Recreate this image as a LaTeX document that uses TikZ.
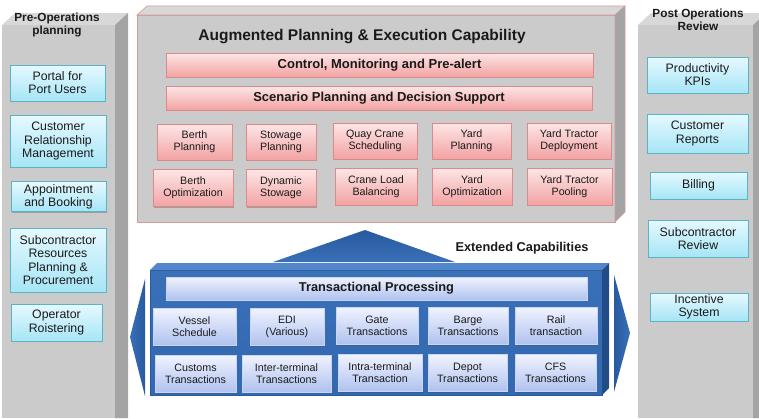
\documentclass[tikz,border=0pt]{standalone}
\usepackage{fontspec}
\setmainfont{Liberation Sans}
\usetikzlibrary{shadows}

\definecolor{txt}{HTML}{1A1A1A}
\definecolor{pillarfront}{HTML}{CBCBCB}
\definecolor{pillartop}{HTML}{D8D8D8}
\definecolor{pillarside}{HTML}{A4A4A4}
\definecolor{redline}{HTML}{D49A9A}
\definecolor{pinktop}{HTML}{FDE6E6}
\definecolor{pinkbot}{HTML}{F3A2A2}
\definecolor{pinkline}{HTML}{D98A8A}
\definecolor{bluedark}{HTML}{275A9E}
\definecolor{bluemid}{HTML}{3A70B8}
\definecolor{bluefront}{HTML}{3268B0}
\definecolor{bluelight}{HTML}{5287CB}
\definecolor{bluetop}{HTML}{F0F3FF}
\definecolor{bluebot}{HTML}{AEC1EE}
\definecolor{blueline}{HTML}{C9D5F2}
\definecolor{cyantop}{HTML}{E6F9FF}
\definecolor{cyanbot}{HTML}{A6E5F6}
\definecolor{cyanline}{HTML}{5CB3C6}

\tikzset{
  boxbase/.style={inner sep=1pt, align=center, text=txt,
    drop shadow={shadow xshift=1.3pt, shadow yshift=-1.3pt, opacity=0.35, fill=black!70}},
  pinkbox/.style={boxbase, draw=pinkline, line width=0.6pt, top color=pinktop, bottom color=pinkbot,
    font=\fontsize{10.7}{11.8}\selectfont},
  pinkbar/.style={pinkbox, font=\fontsize{13}{14}\selectfont\bfseries},
  bluebox/.style={boxbase, draw=blueline, line width=0.6pt, top color=bluetop, bottom color=bluebot,
    font=\fontsize{10.7}{12}\selectfont},
  bluebar/.style={bluebox, font=\fontsize{12.8}{14}\selectfont\bfseries},
  cyanbox/.style={boxbase, draw=cyanline, line width=0.6pt, top color=cyantop, bottom color=cyanbot,
    font=\fontsize{12.3}{13.2}\selectfont},
  heading/.style={align=center, text=txt, inner sep=0pt, font=\fontsize{11.8}{13}\selectfont\bfseries},
}

\begin{document}
\begin{tikzpicture}[x=1pt, y=-1pt]
\useasboundingbox (0,0) rectangle (759,418);
\clip (0,0) rectangle (759,418);
\fill[white] (0,0) rectangle (759,418);

% ---------- left pillar ----------
\fill[pillarfront] (2,25) rectangle (115,418);
\fill[pillartop] (2,25) -- (15,13) -- (128,13) -- (115,25) -- cycle;
\fill[pillarside] (115,25) -- (128,13) -- (128,418) -- (115,418) -- cycle;

% ---------- right pillar ----------
\fill[pillarfront] (638,25) rectangle (753,418);
\fill[pillartop] (638,25) -- (651,13) -- (766,13) -- (753,25) -- cycle;
\fill[pillarside] (753,25) -- (766,13) -- (766,418) -- (753,418) -- cycle;

% ---------- upper block ----------
\fill[pillarfront, draw=redline, line width=0.6pt] (137,15) rectangle (615,222);
\fill[pillartop, draw=redline, line width=0.6pt] (137,15) -- (147,6) -- (625,6) -- (615,15) -- cycle;
\fill[pillarside, draw=redline, line width=0.6pt] (615,15) -- (625,6) -- (625,212) -- (615,222) -- cycle;

% ---------- lower block ----------
\shade[top color=bluedark, bottom color=bluemid] (273,262) -- (365,230) -- (455,262) -- cycle;
\shade[top color=bluemid, bottom color=bluefront] (150,270) rectangle (602,395);
\draw[bluedark, line width=0.8pt] (150,270) rectangle (602,395);
\fill[bluelight] (150,270) -- (157,263) -- (609,263) -- (602,270) -- cycle;
\fill[bluedark!85!black] (602,270) -- (609,263) -- (609,388) -- (602,395) -- cycle;
\shade[left color=bluemid, right color=bluedark] (145,279) -- (130,337) -- (145,396) -- cycle;
\shade[left color=bluedark, right color=bluemid] (614,275) -- (630,333) -- (614,392) -- cycle;

% ---------- headings ----------
\node[heading] (preh) at (57,25) {Pre-Operations\\planning};
\node[heading] (posth) at (698,20) {Post Operations\\Review};
\node[heading, font=\fontsize{15.5}{17}\selectfont\bfseries] (augh) at (362,37)
  {Augmented Planning \& Execution Capability};
\node[heading, font=\fontsize{12.8}{14}\selectfont\bfseries] (exth) at (522,248) {Extended Capabilities};

% ---------- planning & execution ----------
\node[pinkbar, minimum width=427pt, minimum height=24pt] (cmp) at (379.5,65) {Control, Monitoring and Pre-alert};
\node[pinkbar, minimum width=426pt, minimum height=24pt] (spd) at (379,98) {Scenario Planning and Decision Support};

\node[pinkbox, minimum width=75pt, minimum height=36pt] (berthp) at (194.5,142) {Berth\\Planning};
\node[pinkbox, minimum width=70pt, minimum height=36pt] (stowp) at (281,142) {Stowage\\Planning};
\node[pinkbox, minimum width=84pt, minimum height=36pt] (qcs) at (375,141) {Quay Crane\\Scheduling};
\node[pinkbox, minimum width=79pt, minimum height=36pt] (yardp) at (471.5,141) {Yard\\Planning};
\node[pinkbox, minimum width=84pt, minimum height=36pt] (ytd) at (569,141) {Yard Tractor\\Deployment};

\node[pinkbox, minimum width=80pt, minimum height=37pt] (bertho) at (193,188) {Berth\\Optimization};
\node[pinkbox, minimum width=70pt, minimum height=37pt] (dyns) at (281,188) {Dynamic\\Stowage};
\node[pinkbox, minimum width=82pt, minimum height=37pt] (clb) at (376,186.5) {Crane Load\\Balancing};
\node[pinkbox, minimum width=80pt, minimum height=37pt] (yardo) at (472,186.5) {Yard\\Optimization};
\node[pinkbox, minimum width=85pt, minimum height=37pt] (ytp) at (569.5,186.5) {Yard Tractor\\Pooling};

% ---------- transactional processing ----------
\node[bluebar, minimum width=421pt, minimum height=23pt] (tp) at (376.5,288.5) {Transactional Processing};

\node[bluebox, minimum width=83pt, minimum height=37pt] (vessel) at (194.5,327) {Vessel\\Schedule};
\node[bluebox, minimum width=74pt, minimum height=37pt] (edi) at (287,327) {EDI\\(Various)};
\node[bluebox, minimum width=82pt, minimum height=37pt] (gate) at (377,326) {Gate\\Transactions};
\node[bluebox, minimum width=80pt, minimum height=37pt] (barge) at (468,326) {Barge\\Transactions};
\node[bluebox, minimum width=82pt, minimum height=37pt] (rail) at (556,326) {Rail\\transaction};

\node[bluebox, minimum width=81pt, minimum height=37pt] (customs) at (195.5,374) {Customs\\Transactions};
\node[bluebox, minimum width=89pt, minimum height=37pt] (inter) at (286.5,373.5) {Inter-terminal\\Transactions};
\node[bluebox, minimum width=84pt, minimum height=37pt] (intra) at (380,373) {Intra-terminal\\Transaction};
\node[bluebox, minimum width=79pt, minimum height=37pt] (depot) at (467.5,373) {Depot\\Transactions};
\node[bluebox, minimum width=81pt, minimum height=37pt] (cfs) at (555.5,373) {CFS\\Transactions};

% ---------- pre-operations planning ----------
\node[cyanbox, minimum width=95pt, minimum height=36pt] (portal) at (57.5,83) {Portal for\\Port Users};
\node[cyanbox, minimum width=96pt, minimum height=52pt] (crm) at (58,141) {Customer\\Relationship\\Management};
\node[cyanbox, minimum width=95pt, minimum height=30pt] (appt) at (58.5,196.5) {Appointment\\and Booking};
\node[cyanbox, minimum width=96pt, minimum height=64pt] (subc) at (58,260) {Subcontractor\\Resources\\Planning \&\\Procurement};
\node[cyanbox, minimum width=91pt, minimum height=37pt] (oper) at (56.5,322.5) {Operator\\Roistering};

% ---------- post operations review ----------
\node[cyanbox, minimum width=101pt, minimum height=36pt] (kpi) at (697.5,75) {Productivity\\KPIs};
\node[cyanbox, minimum width=101pt, minimum height=39pt] (custr) at (697.5,133.5) {Customer\\Reports};
\node[cyanbox, minimum width=97pt, minimum height=27pt] (bill) at (698.5,185.5) {Billing};
\node[cyanbox, minimum width=100pt, minimum height=37pt] (subr) at (698,238.5) {Subcontractor\\Review};
\node[cyanbox, minimum width=98pt, minimum height=28pt] (incent) at (699,307) {Incentive\\System};
\end{tikzpicture}
\end{document}
